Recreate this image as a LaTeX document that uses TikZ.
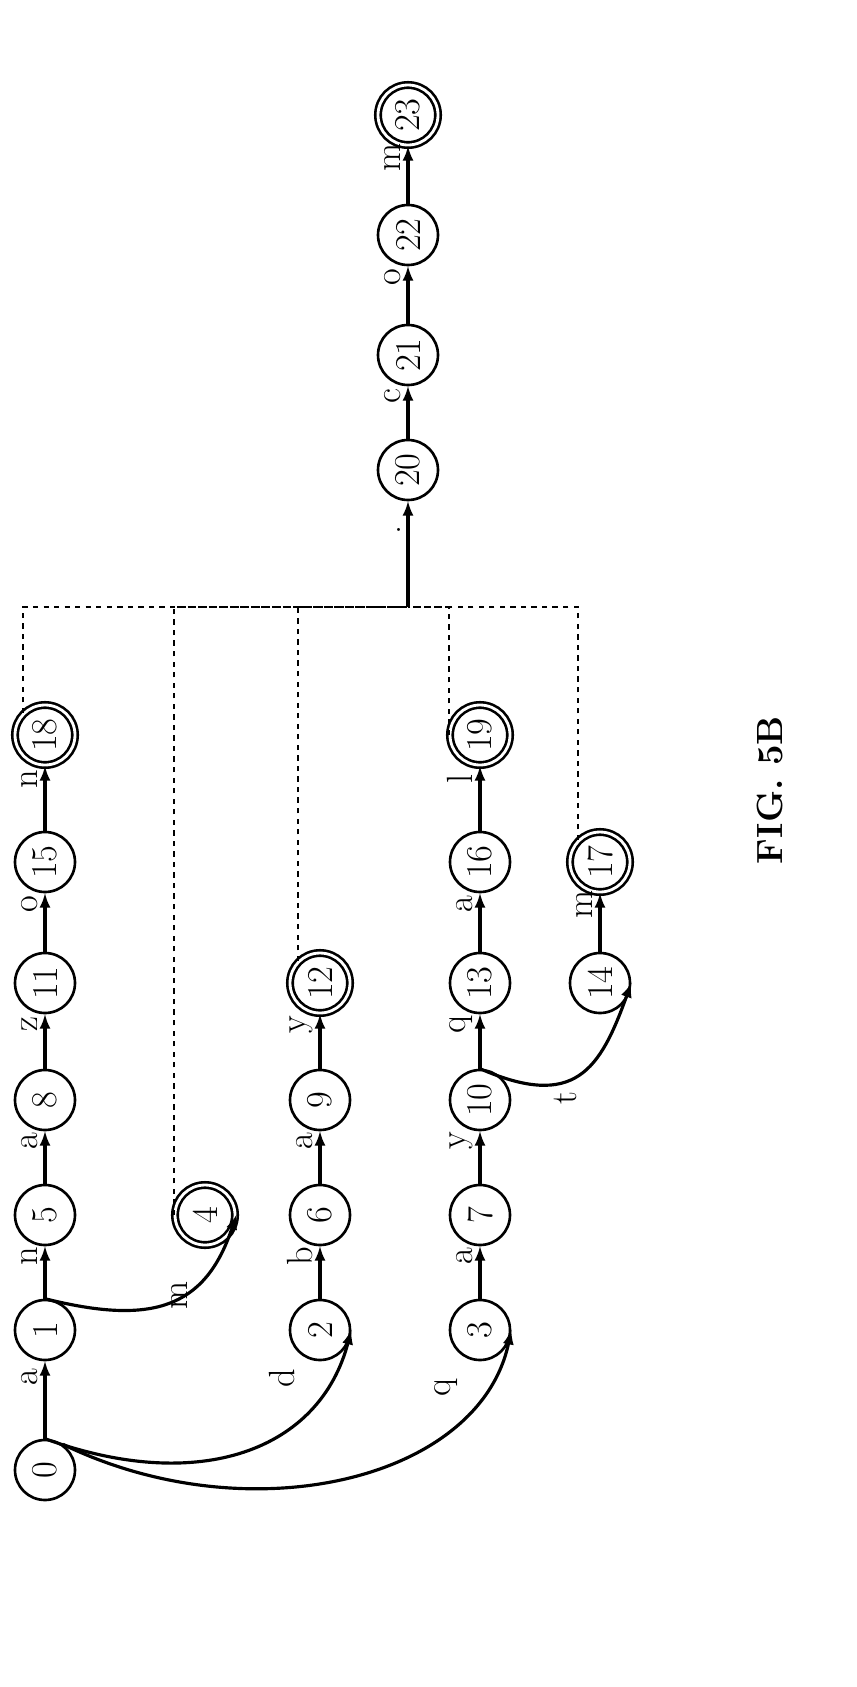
\documentclass[tikz,border=0pt]{standalone}
\usepackage{tikz}
\usetikzlibrary{positioning,arrows,calc}
\tikzset{
  st/.style={draw,circle,line width=1.5pt,minimum size=1.2cm,inner sep=0pt,font=\huge,rotate=90},
  fin/.style={st,double,double distance=1.6pt},
  lbl/.style={font=\huge,rotate=90},
  tr/.style={-latex,line width=1.8pt},
  eps/.style={dashed,line width=1.3pt}
}
\begin{document}
\begin{tikzpicture}[x=0.02cm,y=-0.02cm]
    \useasboundingbox (0,0) rectangle (856,1687);

    % erste reihe
    \node [st] (n0) at (45,1470) {0};
    \node [st] (n1) at (45,1330) {1};
    \node [st] (n5) at (45,1215) {5};
    \node [st] (n8) at (45,1100) {8};
    \node [st] (n11) at (45,983) {11};
    \node [st] (n15) at (45,862) {15};
    \node [fin] (n18) at (45,735) {18};
    \node [fin] (n4) at (205,1215) {4};

    % zweite reihe
    \node [st] (n2) at (320,1330) {2};
    \node [st] (n6) at (320,1215) {6};
    \node [st] (n9) at (320,1100) {9};
    \node [fin] (n12) at (320,983) {12};

    % dritte reihe
    \node [st] (n3) at (480,1330) {3};
    \node [st] (n7) at (480,1215) {7};
    \node [st] (n10) at (480,1100) {10};
    \node [st] (n13) at (480,983) {13};
    \node [st] (n16) at (480,862) {16};
    \node [fin] (n19) at (480,735) {19};
    \node [st] (n14) at (600,983) {14};
    \node [fin] (n17) at (600,862) {17};

    % obere kette
    \node [st] (n20) at (408,470) {20};
    \node [st] (n21) at (408,355) {21};
    \node [st] (n22) at (408,235) {22};
    \node [fin] (n23) at (408,115) {23};

    % kanten
    \draw [tr] (n0) -- node[lbl,above=2pt,pos=0.75] {a} (n1);
    \draw [tr] (n1) -- node[lbl,above=2pt,pos=0.75] {n} (n5);
    \draw [tr] (n5) -- node[lbl,above=2pt,pos=0.75] {a} (n8);
    \draw [tr] (n8) -- node[lbl,above=2pt,pos=0.75] {z} (n11);
    \draw [tr] (n11) -- node[lbl,above=2pt,pos=0.75] {o} (n15);
    \draw [tr] (n15) -- node[lbl,above=2pt,pos=0.75] {n} (n18);
    \draw [tr] (n2) -- node[lbl,above=2pt,pos=0.75] {b} (n6);
    \draw [tr] (n6) -- node[lbl,above=2pt,pos=0.75] {a} (n9);
    \draw [tr] (n9) -- node[lbl,above=2pt,pos=0.75] {y} (n12);
    \draw [tr] (n3) -- node[lbl,above=2pt,pos=0.75] {a} (n7);
    \draw [tr] (n7) -- node[lbl,above=2pt,pos=0.75] {y} (n10);
    \draw [tr] (n10) -- node[lbl,above=2pt,pos=0.75] {q} (n13);
    \draw [tr] (n13) -- node[lbl,above=2pt,pos=0.75] {a} (n16);
    \draw [tr] (n16) -- node[lbl,above=2pt,pos=0.75] {l} (n19);
    \draw [tr] (n14) -- node[lbl,above=2pt,pos=0.75] {m} (n17);
    \draw [tr] (n20) -- node[lbl,above=2pt,pos=0.75] {c} (n21);
    \draw [tr] (n21) -- node[lbl,above=2pt,pos=0.75] {o} (n22);
    \draw [tr] (n22) -- node[lbl,above=2pt,pos=0.75] {m} (n23);

    % gebogene kanten
    \draw [tr] (n1.east) .. controls (150,1325) and (205,1310) .. (n4.south);
    \node [lbl] (m4) at (180,1295) {m};
    \draw [tr] (n0.east) .. controls (200,1495) and (320,1450) .. (n2.south);
    \node [lbl] (d2) at (282,1378) {d};
    \draw [tr] (n0.-35) .. controls (250,1535) and (480,1480) .. (n3.south);
    \node [lbl] (q3) at (446,1388) {q};
    \draw [tr] (n10.east) .. controls (575,1110) and (600,1070) .. (n14.south);
    \node [lbl] (t14) at (565,1098) {t};

    % epsilon-verbindungen
    \coordinate (j) at (408,607);
    \draw [eps] (n18.north east) |- (j);
    \draw [eps] (n4.north) |- (j);
    \draw [eps] (n12.north east) |- (j);
    \draw [eps] (n19.north) |- (j);
    \draw [eps] (n17.north east) |- (j);
    \draw [tr] (j) -- node[lbl,above=8pt,pos=0.6] {.} (n20);

    \node [font=\huge\bfseries,rotate=90] (fig) at (770,790) {FIG. 5B};
\end{tikzpicture}
\end{document}
